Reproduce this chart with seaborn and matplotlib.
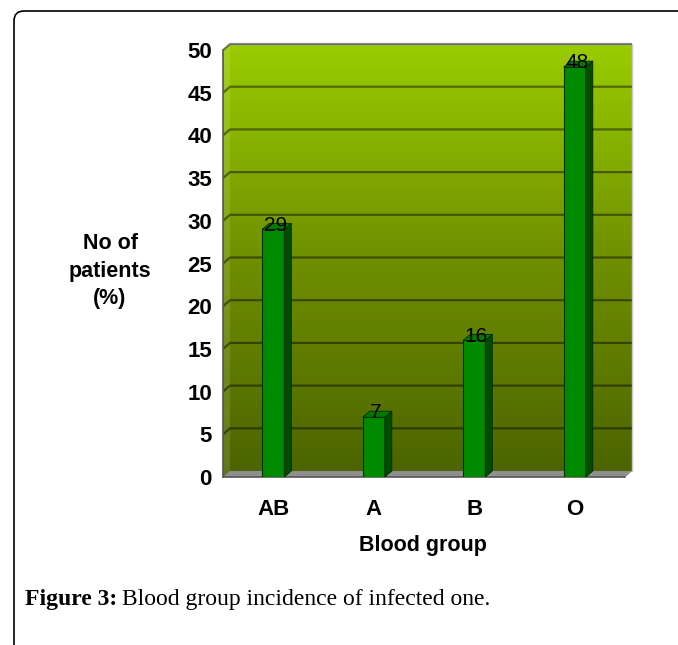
import numpy as np
import matplotlib
matplotlib.use("Agg")
import matplotlib.pyplot as plt
import seaborn as sns
from matplotlib.colors import LinearSegmentedColormap
from matplotlib.patches import Polygon, FancyBboxPatch

groups = ["AB", "A", "B", "O"]
patients_pct = [29, 7, 16, 48]
y_ticks = [0, 5, 10, 15, 20, 25, 30, 35, 40, 45, 50]

sns.set_style("white")
plt.rcParams["font.family"] = ["Liberation Sans", "DejaVu Sans"]
plt.rcParams["text.color"] = "black"

W, H = 678, 645
fig = plt.figure(figsize=(W / 100, H / 100), dpi=100)

# axes: y=0 at px 477, 8.54 px per unit; x from 223 px, 100.5 px per category
ax = fig.add_axes([223 / W, 168 / H, 412 / W, 439.8 / H])
ax.set_facecolor("none")

dx, dy = 0.07, 0.7  # fake 3d depth in data units

# back wall gradient
cmap = LinearSegmentedColormap.from_list("wall", ["#4b6400", "#6f8f00", "#9acc00"])
im = ax.imshow(np.linspace(0, 1, 256).reshape(-1, 1), cmap=cmap, origin="lower",
               extent=(-0.5, 3.5 + dx, 0, 50 + dy), aspect="auto", zorder=0)
wall = Polygon([(-0.5, 0), (-0.5, 50), (-0.5 + dx, 50 + dy), (3.5 + dx, 50 + dy),
                (3.5 + dx, dy), (3.5, 0)],
               closed=True, transform=ax.transData, facecolor="none", edgecolor="none")
ax.add_patch(wall)
im.set_clip_path(wall)

# left side strip a bit lighter
ax.add_patch(Polygon([(-0.5, 0), (-0.5 + dx, dy), (-0.5 + dx, 50 + dy), (-0.5, 50)],
                     facecolor="white", alpha=0.12, edgecolor="none", zorder=1))
# wall border
ax.plot([-0.5 + dx, 3.5 + dx, 3.5 + dx], [50 + dy, 50 + dy, dy], color="#c8c8c8", lw=1, zorder=1)

# gridlines on the wall
for t in y_ticks[1:]:
    ax.plot([-0.5, -0.5 + dx, 3.5 + dx], [t, t + dy, t + dy], color="black", alpha=0.45,
            lw=1.6, zorder=1, solid_capstyle="butt")

# floor
ax.add_patch(Polygon([(-0.5, 0), (3.5, 0), (3.5 + dx, dy), (-0.5 + dx, dy)],
                     facecolor="#8f8f8f", edgecolor="none", zorder=2))

sns.barplot(x=groups, y=patients_pct, width=0.22, color="#008a00", saturation=1,
            edgecolor="#003300", linewidth=0.8, ax=ax, zorder=3)

bars = [p for p in ax.patches if p.get_zorder() == 3]
for p, v in zip(bars, patients_pct):
    x0, w, h = p.get_x(), p.get_width(), p.get_height()
    ax.add_patch(Polygon([(x0 + w, 0), (x0 + w + dx, dy), (x0 + w + dx, h + dy), (x0 + w, h)],
                         facecolor="#004d00", edgecolor="#002a00", lw=0.6, zorder=3))
    ax.add_patch(Polygon([(x0, h), (x0 + w, h), (x0 + w + dx, h + dy), (x0 + dx, h + dy)],
                         facecolor="#007a00", edgecolor="#002a00", lw=0.6, zorder=3))
    ax.text(x0 + w / 2 + 0.02, h + 0.5, str(v), ha="center", va="center",
            fontsize=15, color="black", zorder=5)

ax.set_xlim(-0.5, 3.6)
ax.set_ylim(0, 51.5)

for s in ["top", "right"]:
    ax.spines[s].set_visible(False)
for s in ["left", "bottom"]:
    ax.spines[s].set_color("#555555")
    ax.spines[s].set_linewidth(1.2)
ax.spines["left"].set_bounds(0, 50)
ax.spines["bottom"].set_bounds(-0.5, 3.5)

ax.set_yticks(y_ticks)
ax.set_yticklabels([str(t) for t in y_ticks], fontsize=16, fontweight="bold", color="black")
ax.tick_params(axis="y", length=5, width=1.2, color="#555555", pad=3)

ax.set_xticks(range(len(groups)))
ax.set_xticklabels(groups, fontsize=16, fontweight="bold", color="black")
ax.set_xticks([-0.5, 0.5, 1.5, 2.5, 3.5], minor=True)
ax.tick_params(axis="x", which="major", length=0, pad=16)
ax.tick_params(axis="x", which="minor", length=6, width=1.2, color="#555555")
ax.set_xlabel("")
ax.set_ylabel("")

fig.text(110 / W, 1 - 271 / H, "No of\npatients\n(%)", ha="center", va="center",
         fontsize=15.5, fontweight="bold", linespacing=1.4)
fig.text(423 / W, 1 - 545 / H, "Blood group", ha="center", va="center",
         fontsize=15.5, fontweight="bold")

# caption
cap1 = fig.text(25 / W, 1 - 605 / H, "Figure 3:", ha="left", va="baseline",
                fontsize=17, fontweight="bold", family="Liberation Serif")
r = fig.canvas.get_renderer()
bb = cap1.get_window_extent(r)
fig.text((bb.x1 + 5) / W, 1 - 605 / H, "Blood group incidence of infected one.",
         ha="left", va="baseline", fontsize=17, family="Liberation Serif")

# frame around the figure
frame = FancyBboxPatch((14, -30), 720, H - 11 + 30, boxstyle="round,pad=0,rounding_size=10",
                       transform=None, facecolor="none", edgecolor="black", lw=1.2)
fig.add_artist(frame)

fig.savefig("out.png", dpi=100)
